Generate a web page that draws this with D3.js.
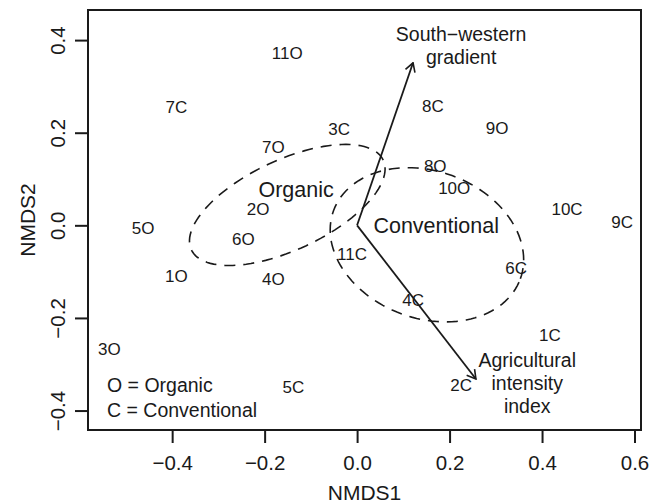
<!DOCTYPE html>
<html>
<head>
<meta charset="utf-8">
<script src="https://cdn.jsdelivr.net/npm/d3@7"></script>
<style>
	body { margin: 0; background: #fff; }
	text { font-family: "Liberation Sans", Arial, sans-serif; fill: #1a1a1a; }
</style>
</head>
<body>
<div id="chart"></div>
<script>
// site scores (label, NMDS1, NMDS2)
const siteLabels = ['11O', '7C', '7O', '2O', '5O', '6O', '1O', '4O', '3O', '5C', '3C', '8C', '9O', '8O', '10O', '10C', '9C', '11C', '6C', '4C', '1C', '2C'];
const nmds1 = [-0.151, -0.391, -0.181, -0.214, -0.463, -0.246, -0.391, -0.181, -0.536, -0.138, -0.039, 0.164, 0.303, 0.169, 0.210, 0.454, 0.573, -0.011, 0.344, 0.121, 0.417, 0.225];
const nmds2 = [0.373, 0.256, 0.170, 0.036, -0.005, -0.029, -0.109, -0.116, -0.267, -0.349, 0.208, 0.258, 0.210, 0.129, 0.081, 0.036, 0.008, -0.062, -0.092, -0.161, -0.236, -0.344];

// group ellipses (centre, semi axes, angle in degrees)
const groupNames = ['Organic', 'Conventional'];
const groupCx = [-0.151, 0.151];
const groupCy = [0.044, -0.042];
const groupA = [0.229, 0.215];
const groupB = [0.097, 0.159];
const groupAngle = [25, -20];
const groupLabelX = [-0.132, 0.171];
const groupLabelY = [0.078, 0.0];

// fitted vectors
const vecX = [0.121, 0.257];
const vecY = [0.351, -0.332];
const vecLines = [['South\u2212western', 'gradient'], ['Agricultural', 'intensity', 'index']];
const vecLabelX = [0.225, 0.368];
const vecLabelY = [0.4125, -0.292];

const xTicks = [-0.4, -0.2, 0.0, 0.2, 0.4, 0.6];
const yTicks = [-0.4, -0.2, 0.0, 0.2, 0.4];
const legendLines = ['O = Organic', 'C = Conventional'];

const width = 662, height = 504;
const svg = d3.select('#chart').append('svg')
	.attr('width', width)
	.attr('height', height);

let x = d3.scaleLinear()
	.domain([-0.582, 0.614])
	.range([88, 641]);
let y = d3.scaleLinear()
	.domain([-0.442, 0.465])
	.range([430, 10]);

// axes
let axis_x = d3.axisBottom(x)
	.tickValues(xTicks)
	.tickFormat(d3.format('.1f'))
	.tickSize(13)
	.tickPadding(12);
let axis_y = d3.axisLeft(y)
	.tickValues(yTicks)
	.tickFormat(d3.format('.1f'))
	.tickSize(13)
	.tickPadding(10);

let gx = svg.append('g')
	.attr('transform', `translate(0, ${y.range()[0]})`)
	.call(axis_x);
gx.select('.domain').remove();
gx.selectAll('line').attr('stroke', '#1a1a1a').attr('stroke-width', 2);
gx.selectAll('text')
	.style('font-size', '20.5px')
	.style('font-family', '"Liberation Sans", Arial, sans-serif')
	.attr('fill', '#1a1a1a');

let gy = svg.append('g')
	.attr('transform', `translate(${x.range()[0]}, 0)`)
	.call(axis_y);
gy.select('.domain').remove();
gy.selectAll('line').attr('stroke', '#1a1a1a').attr('stroke-width', 2);
gy.selectAll('text')
	.style('font-size', '20.5px')
	.style('font-family', '"Liberation Sans", Arial, sans-serif')
	.attr('fill', '#1a1a1a')
	.attr('x', null)
	.attr('dy', null)
	.attr('text-anchor', 'middle')
	.attr('transform', 'translate(-23, 0) rotate(-90)');

svg.append('text')
	.attr('x', (x.range()[0] + x.range()[1]) / 2)
	.attr('y', 500)
	.attr('text-anchor', 'middle')
	.style('font-size', '21px')
	.text('NMDS1');

svg.append('text')
	.attr('transform', `translate(35, ${(y.range()[0] + y.range()[1]) / 2}) rotate(-90)`)
	.attr('text-anchor', 'middle')
	.style('font-size', '21px')
	.text('NMDS2');

// box
svg.append('rect')
	.attr('x', x.range()[0])
	.attr('y', y.range()[1])
	.attr('width', x.range()[1] - x.range()[0])
	.attr('height', y.range()[0] - y.range()[1])
	.attr('fill', 'none')
	.attr('stroke', '#1a1a1a')
	.attr('stroke-width', 2);

// ellipses
let line = d3.line()
	.x(d => x(d[0]))
	.y(d => y(d[1]))
	.curve(d3.curveLinearClosed);
groupNames.forEach((g, i) => {
	let th = groupAngle[i] * Math.PI / 180;
	let pts = d3.range(0, 120).map(k => {
		let t = k / 120 * 2 * Math.PI;
		let u = groupA[i] * Math.cos(t), v = groupB[i] * Math.sin(t);
		return [groupCx[i] + u * Math.cos(th) - v * Math.sin(th),
			groupCy[i] + u * Math.sin(th) + v * Math.cos(th)];
	});
	svg.append('path')
		.attr('d', line(pts))
		.attr('fill', 'none')
		.attr('stroke', '#1a1a1a')
		.attr('stroke-width', 1.6)
		.attr('stroke-dasharray', '11,8');
	svg.append('text')
		.attr('x', x(groupLabelX[i]))
		.attr('y', y(groupLabelY[i]))
		.attr('dy', '0.35em')
		.attr('text-anchor', 'middle')
		.style('font-size', '21.5px')
		.text(g);
});

// site labels
svg.selectAll('.site')
	.data(siteLabels)
	.enter()
	.append('text')
	.attr('class', 'site')
	.attr('x', (d, i) => x(nmds1[i]))
	.attr('y', (d, i) => y(nmds2[i]))
	.attr('dy', '0.36em')
	.attr('text-anchor', 'middle')
	.style('font-size', '17px')
	.text(d => d);

// vectors
svg.append('defs').append('marker')
	.attr('id', 'head')
	.attr('viewBox', '0 0 12 12')
	.attr('refX', 11)
	.attr('refY', 6)
	.attr('markerWidth', 12)
	.attr('markerHeight', 12)
	.attr('markerUnits', 'userSpaceOnUse')
	.attr('orient', 'auto')
	.append('path')
	.attr('d', 'M2.3,1 L11,6 L2.3,11')
	.attr('fill', 'none')
	.attr('stroke', '#1a1a1a')
	.attr('stroke-width', 1.6);

vecX.forEach((vx, i) => {
	svg.append('line')
		.attr('x1', x(0))
		.attr('y1', y(0))
		.attr('x2', x(vx))
		.attr('y2', y(vecY[i]))
		.attr('stroke', '#1a1a1a')
		.attr('stroke-width', 1.8)
		.attr('marker-end', 'url(#head)');
	let t = svg.append('text')
		.attr('text-anchor', 'middle')
		.style('font-size', '19.5px');
	vecLines[i].forEach((s, j) => {
		t.append('tspan')
			.attr('x', x(vecLabelX[i]))
			.attr('y', y(vecLabelY[i]) + j * 23)
			.attr('dy', '0.35em')
			.text(s);
	});
});

// legend
legendLines.forEach((s, i) => {
	svg.append('text')
		.attr('x', 107)
		.attr('y', 392 + i * 25)
		.style('font-size', '19.5px')
		.text(s);
});
</script>
</body>
</html>
